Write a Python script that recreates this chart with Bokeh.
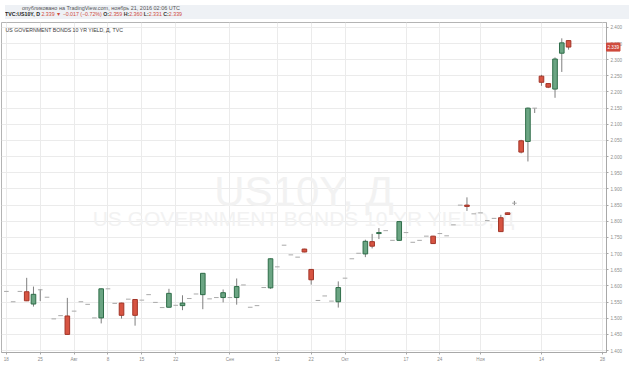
import numpy as np
from bokeh.plotting import figure
from bokeh.layouts import column
from bokeh.models import (ColumnDataSource, FixedTicker, NumeralTickFormatter,
                          Label, Range1d, Div)
from bokeh.embed import file_html
from bokeh.resources import INLINE

# ---------------- data ----------------
bar_index = list(range(-1, 84))
open_ = [1.541, 1.583, 1.551, 1.583, 1.582, 1.544, 1.588, 1.565, 1.498, 1.508,
         1.507, 1.522, 1.551, 1.543, 1.501, 1.501, 1.591, 1.546, 1.547, 1.559,
         1.558, 1.556, 1.573, 1.549, 1.533, 1.534, 1.540, 1.539, 1.561, 1.575,
         1.573, 1.560, 1.564, 1.564, 1.564, 1.564, 1.603, 1.534, 1.539, 1.595,
         1.594, 1.659, 1.726, 1.696, 1.689, 1.714, 1.651, 1.555, 1.569, 1.553,
         1.551, 1.624, 1.684, 1.701, 1.699, 1.737, 1.762, 1.771, 1.741, 1.741,
         1.765, 1.735, 1.741, 1.754, 1.754, 1.762, 1.755, 1.789, 1.850, 1.850,
         1.823, 1.826, 1.802, 1.809, 1.811, 1.826, 1.856, 2.049, 2.047, 2.150,
         2.249, 2.226, 2.209, 2.320, 2.359]
high = [1.541, 1.583, 1.551, 1.583, 1.625, 1.598, 1.590, 1.565, 1.498, 1.508,
        1.563, 1.522, 1.551, 1.543, 1.501, 1.592, 1.591, 1.546, 1.548, 1.559,
        1.559, 1.556, 1.573, 1.549, 1.533, 1.591, 1.540, 1.571, 1.561, 1.575,
        1.640, 1.560, 1.564, 1.589, 1.564, 1.623, 1.603, 1.534, 1.539, 1.595,
        1.685, 1.659, 1.726, 1.696, 1.689, 1.715, 1.652, 1.555, 1.569, 1.553,
        1.614, 1.624, 1.684, 1.701, 1.743, 1.761, 1.779, 1.771, 1.741, 1.800,
        1.765, 1.735, 1.741, 1.754, 1.755, 1.762, 1.755, 1.789, 1.850, 1.874,
        1.823, 1.826, 1.802, 1.809, 1.820, 1.827, 1.863, 2.052, 2.152, 2.150,
        2.253, 2.227, 2.307, 2.366, 2.360]
low = [1.541, 1.583, 1.551, 1.583, 1.553, 1.536, 1.553, 1.565, 1.498, 1.508,
       1.449, 1.522, 1.551, 1.543, 1.501, 1.484, 1.591, 1.546, 1.499, 1.559,
       1.477, 1.556, 1.573, 1.549, 1.533, 1.533, 1.540, 1.525, 1.561, 1.575,
       1.528, 1.560, 1.564, 1.549, 1.564, 1.542, 1.603, 1.534, 1.539, 1.595,
       1.591, 1.659, 1.726, 1.696, 1.689, 1.704, 1.604, 1.555, 1.569, 1.553,
       1.533, 1.624, 1.684, 1.701, 1.689, 1.716, 1.745, 1.771, 1.741, 1.740,
       1.765, 1.735, 1.741, 1.754, 1.730, 1.762, 1.755, 1.789, 1.850, 1.832,
       1.823, 1.826, 1.802, 1.809, 1.767, 1.820, 1.850, 2.010, 1.985, 2.135,
       2.219, 2.212, 2.182, 2.262, 2.331]
close = [1.541, 1.583, 1.551, 1.583, 1.554, 1.574, 1.588, 1.565, 1.498, 1.508,
         1.450, 1.522, 1.551, 1.543, 1.501, 1.591, 1.591, 1.546, 1.509, 1.559,
         1.509, 1.556, 1.573, 1.549, 1.533, 1.577, 1.540, 1.547, 1.561, 1.575,
         1.639, 1.560, 1.564, 1.579, 1.564, 1.598, 1.603, 1.534, 1.539, 1.595,
         1.684, 1.659, 1.726, 1.696, 1.689, 1.705, 1.619, 1.555, 1.569, 1.553,
         1.595, 1.624, 1.684, 1.701, 1.738, 1.723, 1.765, 1.771, 1.741, 1.799,
         1.765, 1.735, 1.741, 1.754, 1.731, 1.762, 1.755, 1.789, 1.850, 1.846,
         1.823, 1.826, 1.802, 1.809, 1.768, 1.821, 1.856, 2.014, 2.150, 2.150,
         2.230, 2.215, 2.302, 2.352, 2.339]

change = -0.017
change_pct = -0.72

x_tick_positions = [0, 5, 10, 15, 20, 25, 33, 40, 45, 50, 59, 64, 70, 79, 88]
x_tick_labels = ["18", "25", "Авг", "8", "15", "22", "Сен", "12", "22", "Окт",
                 "17", "24", "Ноя", "14", "28"]
y_tick_values = [round(1.40 + 0.05 * k, 2) for k in range(21)]

# ---------------- styling ----------------
FONT = "Liberation Sans"
UP_FILL, UP_LINE = "#6ba583", "#2f6d49"
DN_FILL, DN_LINE = "#d75442", "#a23528"
WICK = "#7f7f7f"
FLAT = "#a9a9a9"
RED = "#cf4a3c"
HALF = 0.34

n = len(bar_index)
ups = [i for i in range(n) if close[i] > open_[i]]
dns = [i for i in range(n) if close[i] < open_[i]]
flats = [i for i in range(n) if close[i] == open_[i]]
wicks = [i for i in range(n) if high[i] > low[i]]


def src(idxs):
    return ColumnDataSource(dict(
        x=[bar_index[i] for i in idxs],
        x0=[bar_index[i] - HALF for i in idxs],
        x1=[bar_index[i] + HALF for i in idxs],
        top=[max(open_[i], close[i]) for i in idxs],
        bottom=[min(open_[i], close[i]) for i in idxs],
        h=[high[i] for i in idxs],
        l=[low[i] for i in idxs],
        o=[open_[i] for i in idxs],
    ))


x_start, x_end = -0.72, 88.6
y_start, y_end = 1.394, 2.415

p = figure(width=624, height=350, output_backend="svg", toolbar_location=None,
           x_range=Range1d(x_start, x_end), y_range=Range1d(y_start, y_end),
           y_axis_location="right",
           min_border_left=1, min_border_right=0, min_border_top=1,
           min_border_bottom=0,
           background_fill_color="white", border_fill_color="white",
           border_fill_alpha=0.0,
           outline_line_color="#b4b4b4")
try:
    p.margin = (-10, 0, 0, 0)
except Exception:
    p.height = 340

# grid
p.xgrid.ticker = FixedTicker(ticks=x_tick_positions)
p.ygrid.ticker = FixedTicker(ticks=y_tick_values)
p.xgrid.grid_line_color = "#ebebeb"
p.ygrid.grid_line_color = "#ebebeb"

# axes
xa = p.xaxis[0]
xa.ticker = FixedTicker(ticks=x_tick_positions)
xa.major_label_overrides = {pos: lab for pos, lab in zip(x_tick_positions, x_tick_labels)}
xa.major_label_text_font = FONT
xa.major_label_text_font_size = "4.6px"
xa.major_label_text_color = "#8c8c8c"
xa.major_label_standoff = 2
xa.major_tick_out = 2
xa.major_tick_in = 0
xa.minor_tick_line_color = None
xa.axis_line_color = "#a8a8a8"
xa.major_tick_line_color = "#a8a8a8"

ya = p.yaxis[0]
ya.ticker = FixedTicker(ticks=y_tick_values)
ya.formatter = NumeralTickFormatter(format="0.000")
ya.major_label_text_font = FONT
ya.major_label_text_font_size = "4.6px"
ya.major_label_text_color = "#8c8c8c"
ya.major_label_standoff = 2
ya.major_tick_out = 2
ya.major_tick_in = 0
ya.minor_tick_line_color = None
ya.axis_line_color = "#a8a8a8"
ya.major_tick_line_color = "#a8a8a8"

# watermark
p.add_layout(Label(x=(x_start + x_end) / 2, y=y_start + 0.488 * (y_end - y_start),
                   text="US10Y, Д", text_align="center", text_baseline="alphabetic",
                   text_font=FONT, text_font_size="42px", text_color="#f2f2f2",
                   level="underlay"))
p.add_layout(Label(x=(x_start + x_end) / 2, y=y_start + 0.406 * (y_end - y_start),
                   text="US GOVERNMENT BONDS 10 YR YIELD, Д", text_align="center",
                   text_baseline="alphabetic", text_font=FONT, text_font_size="21px",
                   text_color="#f2f2f2", level="underlay"))

# candles
p.segment(x0="x", y0="h", x1="x", y1="l", source=src(wicks), line_color=WICK, line_width=1)
p.vbar(x="x", width=2 * HALF, top="top", bottom="bottom", source=src(ups),
       fill_color=UP_FILL, line_color=UP_LINE, line_width=1)
p.vbar(x="x", width=2 * HALF, top="top", bottom="bottom", source=src(dns),
       fill_color=DN_FILL, line_color=DN_LINE, line_width=1)
p.segment(x0="x0", y0="o", x1="x1", y1="o", source=src(flats), line_color=FLAT, line_width=1)

# in-plot title
p.add_layout(Label(x=x_start, y=y_end, x_offset=4, y_offset=-7,
                   text="US GOVERNMENT BONDS 10 YR YIELD, Д, TVC",
                   text_baseline="middle", text_align="left", text_font=FONT,
                   text_font_size="5.2px", text_color="#3c3c3c"))

# last price tag (in a side panel so that it is not clipped to the frame)
tag = Label(x=x_end, y=close[-1], x_offset=0, text=f"{close[-1]:.3f}",
            text_baseline="middle", text_align="left", text_font=FONT,
            text_font_size="4.6px", text_color="white",
            background_fill_color=RED, border_line_color=RED)
try:
    tag.padding = (1, 2)
except Exception:
    pass
p.add_layout(tag, "above")

# header (inline SVG text so that the tiny font is laid out exactly)
line1 = "опубликовано на TradingView.com, ноябрь 21, 2016 02:06 UTC"
hdr = (
    '<svg xmlns="http://www.w3.org/2000/svg" width="624" height="14" style="display:block">'
    '<rect x="0" y="0" width="624" height="14" fill="#eef1f5"/>'
    f'<text x="17" y="4.6" font-family="{FONT}" font-size="5.0" fill="#555" '
    f'textLength="158" lengthAdjust="spacingAndGlyphs">{line1}</text>'
    f'<text x="0" y="11.4" font-family="{FONT}" font-size="5.2" fill="#333" '
    f'textLength="177" lengthAdjust="spacingAndGlyphs">'
    f'<tspan font-weight="bold" fill="#222">TVC:US10Y, D</tspan>'
    f'<tspan fill="{RED}"> {close[-1]:.3f} ▼ −{abs(change):.3f} (−{abs(change_pct):.2f}%)</tspan>'
    f'<tspan font-weight="bold"> O:</tspan><tspan fill="{RED}">{open_[-1]:.3f}</tspan>'
    f'<tspan font-weight="bold"> H:</tspan><tspan fill="{RED}">{high[-1]:.3f}</tspan>'
    f'<tspan font-weight="bold"> L:</tspan><tspan fill="{RED}">{low[-1]:.3f}</tspan>'
    f'<tspan font-weight="bold"> C:</tspan><tspan fill="{RED}">{close[-1]:.3f}</tspan>'
    '</text></svg>'
)
div = Div(text=hdr, width=624, height=14)

layout = column(div, p, spacing=0)
open("out.html", "w").write(file_html(layout, INLINE))
